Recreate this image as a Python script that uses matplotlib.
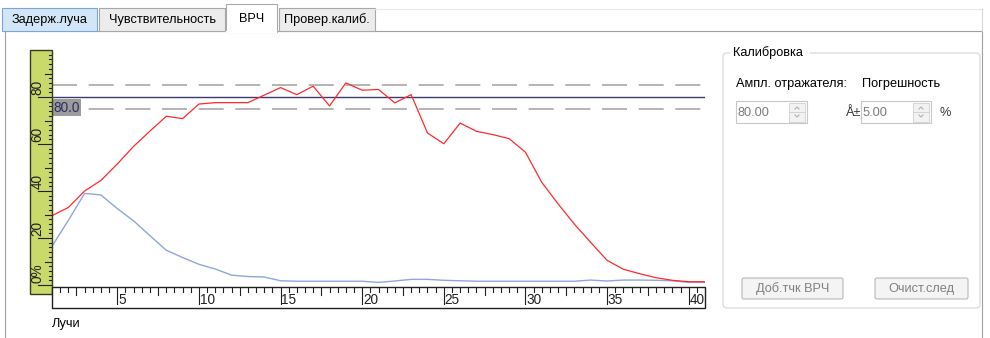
import numpy as np
import matplotlib.pyplot as plt
from matplotlib.patches import Rectangle, FancyBboxPatch

plt.rcParams['font.family'] = ['Liberation Sans', 'DejaVu Sans']

# --- data ---
rays = np.arange(1, 42)
red_vals = [29.5, 33, 40, 44.5, 51.5, 59, 65.5, 71.8, 70.8, 77, 77.6, 77.6, 77.6, 80.8,
            84, 81, 84.6, 76.2, 86, 82.9, 83.2, 77.5, 81, 64.7, 60.1, 68.9, 65.4, 64,
            62.3, 56.5, 43.7, 34.5, 25.9, 18.1, 10.5, 6.7, 4.8, 3.1, 2.0, 1.4, 1.4]
blue_vals = [16.5, 27.5, 39, 38.3, 32.5, 27.3, 21, 14.8, 11.7, 8.8, 6.8, 4.2, 3.6, 3.4,
             1.8, 1.6, 1.6, 1.6, 1.6, 1.6, 1.1, 1.7, 2.4, 2.4, 2.0, 1.8, 1.6, 1.6,
             1.6, 1.6, 1.6, 1.6, 1.6, 2.1, 1.7, 2.1, 2.1, 2.0, 1.8, 1.1, 1.1]
target = 80.0
tolerance = 5.0
y_labels = [(0, '0%'), (20, '20'), (40, '40'), (60, '60'), (80, '80')]
x_labels = [5, 10, 15, 20, 25, 30, 35, 40]
tabs = ['Задерж.луча', 'Чувствительность', 'ВРЧ', 'Провер.калиб.']

W, H = 990, 338
fig = plt.figure(figsize=(W / 100, H / 100), dpi=100)
fig.patch.set_facecolor('white')


def box(x0, y0, x1, y1):
    return [x0 / W, 1 - y1 / H, (x1 - x0) / W, (y1 - y0) / H]


# background "form" drawn in pixel coordinates
ui = fig.add_axes([0, 0, 1, 1])
ui.set_xlim(0, W)
ui.set_ylim(H, 0)
ui.axis('off')

FS = 9.2
# tab page frame
ui.add_patch(Rectangle((5, 31), 977, 330, fill=False, ec='#a0a0a0', lw=0.8))
ui.plot([375, 982], [8.5, 8.5], color='#e8e8e8', lw=0.8)
ui.plot([982, 982], [8.5, 31], color='#d8d8d8', lw=0.8)

tab_boxes = [(2, 8, 97, 31), (99, 8, 225, 31), (226, 4, 277, 32), (279, 8, 375, 31)]
tab_fill = ['#d3e6f7', '#ececec', 'white', '#ececec']
tab_edge = ['#7aa7d4', '#a8a8a8', '#a8a8a8', '#a8a8a8']
for (x0, y0, x1, y1), lbl, fc, ec in zip(tab_boxes, tabs, tab_fill, tab_edge):
    ui.add_patch(Rectangle((x0, y0), x1 - x0, y1 - y0, fc=fc, ec=ec, lw=0.8))
    ui.text((x0 + x1) / 2, (y0 + y1) / 2 + 0.5, lbl, ha='center', va='center',
            fontsize=FS, color='black')
# selected tab merges with page
ui.plot([226.6, 276.4], [31.5, 31.5], color='white', lw=1.6)

# group box
ui.add_patch(FancyBboxPatch((723, 53), 257, 255, boxstyle='round,pad=0,rounding_size=4',
                            fill=False, ec='#d4dbe3', lw=0.9))
ui.add_patch(Rectangle((730, 47), 80, 12, fc='white', ec='none'))
ui.text(733, 53, 'Калибровка', ha='left', va='center', fontsize=FS)
ui.text(736, 84, 'Ампл. отражателя:', ha='left', va='center', fontsize=FS)
ui.text(862, 84, 'Погрешность', ha='left', va='center', fontsize=FS)


def spinbox(x0, x1, y0, y1, txt):
    ui.add_patch(Rectangle((x0, y0), x1 - x0, y1 - y0, fc='white', ec='#c8c8c8', lw=0.8))
    ui.text(x0 + 2, (y0 + y1) / 2 + 0.5, txt, ha='left', va='center', fontsize=FS,
            color='#7a7a7a')
    bx = x1 - 18
    ym = (y0 + y1) / 2
    ui.add_patch(Rectangle((bx, y0 + 1.5), 16, ym - y0 - 1.5, fc='#f2f2f2', ec='#d0d0d0', lw=0.6))
    ui.add_patch(Rectangle((bx, ym), 16, y1 - ym - 1.5, fc='#f2f2f2', ec='#d0d0d0', lw=0.6))
    ui.plot([bx + 6, bx + 8, bx + 10], [ym - 3, ym - 5, ym - 3], color='#b0b0b0', lw=0.8)
    ui.plot([bx + 6, bx + 8, bx + 10], [ym + 3, ym + 5, ym + 3], color='#b0b0b0', lw=0.8)


spinbox(736, 807, 101, 123, '80.00')
spinbox(861, 931, 101, 123, '5.00')
ui.text(846, 112.5, 'Å±', ha='left', va='center', fontsize=FS, color='#333333')
ui.text(940, 112.5, '%', ha='left', va='center', fontsize=FS, color='#333333')

for (x0, x1, lbl) in [(742, 843, 'Доб.тчк ВРЧ'), (875, 968, 'Очист.след')]:
    ui.add_patch(FancyBboxPatch((x0, 278), x1 - x0, 21, boxstyle='round,pad=0,rounding_size=2',
                                fc='#f4f4f4', ec='#b8b8b8', lw=0.8))
    ui.text((x0 + x1) / 2, 289, lbl, ha='center', va='center', fontsize=FS, color='#808080')

ui.text(52, 324, 'Лучи', ha='left', va='center', fontsize=FS)

# --- chart ---
ax = fig.add_axes(box(52, 50, 705, 285))
ax.set_xlim(1, 41)
ax.set_ylim(0, 100)
ax.axis('off')
ax.axhline(target + tolerance, color='#a8a8a8', lw=1.2, dashes=(15, 7))
ax.axhline(target - tolerance, color='#a8a8a8', lw=1.2, dashes=(15, 7))
ax.axhline(target, color='#3c3c6c', lw=1.0)
ax.plot(rays, blue_vals, color='#8ea6dc', lw=1.0)
ax.plot(rays, red_vals, color='#ff2a2a', lw=0.9)
ax.text(1.1, target - 4.6, '80.0', ha='left', va='center', fontsize=9.8, color='#2e2e5e',
        bbox=dict(boxstyle='square,pad=0.1', fc='#9c9c9c', ec='none'))

# vertical ruler
ry = fig.add_axes(box(30, 50, 52, 294))
ry.set_xlim(0, 22)
ry.set_ylim(-9 / 2.35, 100)
ry.axis('off')
ry.add_patch(Rectangle((0, -9 / 2.35), 22, 100 + 9 / 2.35, fc='#c9da6a', ec='#3a3a20',
                       lw=1.0, transform=ry.transData, clip_on=False))
for v in range(0, 100, 2):
    if v % 20 == 0:
        x0 = 8
    elif v % 10 == 0:
        x0 = 15
    else:
        x0 = 18.5
    ry.plot([x0, 22], [v, v], color='#202020', lw=0.8)
for v, lbl in y_labels:
    ry.text(7.5, v + 1.0, lbl, rotation=90, ha='left', va='center', rotation_mode='anchor',
            fontsize=9.8, color='#202020')

# horizontal ruler
rx = fig.add_axes(box(52, 287, 705, 308))
rx.set_xlim(1, 41)
rx.set_ylim(0, 21)
rx.axis('off')
rx.add_patch(Rectangle((1, 0), 40, 21, fc='white', ec='#202020', lw=1.0, clip_on=False))
for t in np.arange(1.5, 41, 0.5):
    if t % 5 == 0:
        y0 = 4
    elif t % 2.5 == 0:
        y0 = 13
    else:
        y0 = 16.5
    rx.plot([t, t], [y0, 21], color='#202020', lw=0.8)
for t in x_labels:
    rx.text(t + 0.05, 1.5, str(t), ha='left', va='bottom', fontsize=9.8, color='#202020')

fig.savefig('out.png', dpi=100)
